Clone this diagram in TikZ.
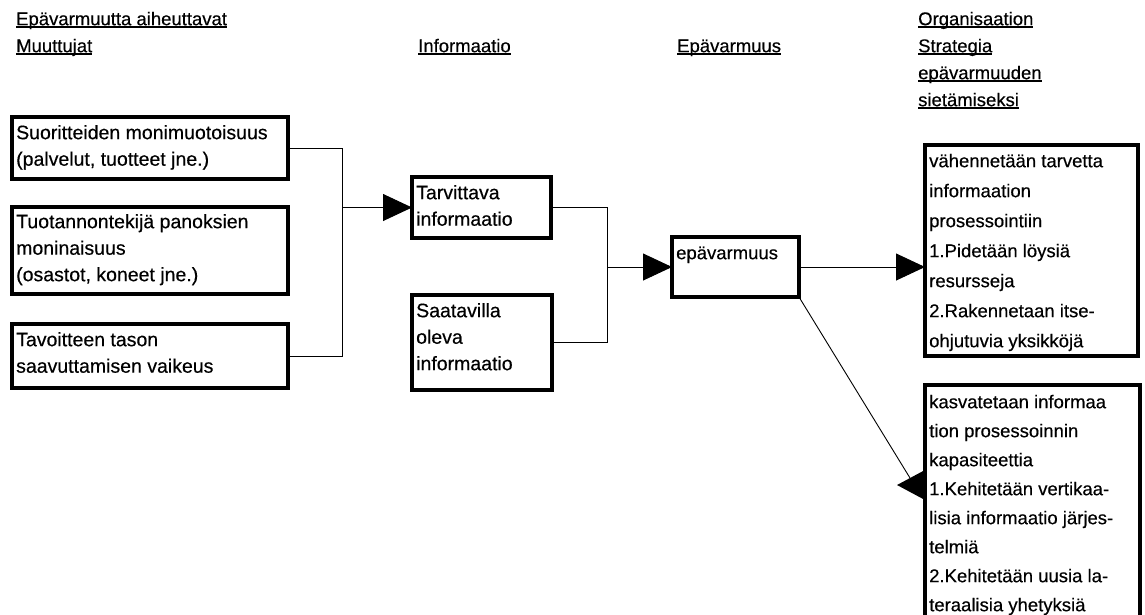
\documentclass[tikz,border=0pt]{standalone}
\usepackage{fontspec}
\setmainfont{Liberation Sans}[FakeBold=0.4]
\usetikzlibrary{arrows.meta,calc}
% underline at a fixed depth below the baseline
\newsavebox\ulinebox
\newcommand\hul[1]{\sbox\ulinebox{#1}\rlap{\rule[-2.6pt]{\wd\ulinebox}{1.6pt}}\usebox\ulinebox}

\begin{document}
\begin{tikzpicture}[x=1pt,y=-1pt,
  frame/.style={draw, line width=3.4pt, inner sep=0pt, outer sep=0pt, anchor=north west},
  lefttxt/.style={anchor=north west, inner sep=0pt, align=left, font=\fontsize{19.5}{26.5}\selectfont},
  righttxt/.style={anchor=north west, inner sep=0pt, align=left, font=\fontsize{18.5}{29}\selectfont},
  headtxt/.style={anchor=north west, inner sep=0pt, align=left, font=\fontsize{18.5}{27}\selectfont},
  conn/.style={line width=0.9pt},
  tip/.style={-{Triangle[length=29pt,width=27pt]}}]

\useasboundingbox (0,0) rectangle (1145,614);
\clip (0,0) rectangle (1145,614);

% column headings
\node[headtxt] (hA) at (16,6.1) {\strut\hul{Epävarmuutta aiheuttavat}\\\hul{Muuttujat}};
\node[headtxt] (hB) at (418,33.1) {\strut\hul{Informaatio}};
\node[headtxt] (hC) at (677,33.1) {\strut\hul{Epävarmuus}};
\node[headtxt] (hD) at (918,6.1) {\strut\hul{Organisaation}\\\hul{Strategia}\\\hul{epävarmuuden}\\\hul{sietämiseksi}};

% source variables
\node[frame, minimum width=276, minimum height=62] (B1) at (12,117) {};
\node[lefttxt] (B1t) at (16,120.45) {\strut Suoritteiden monimuotoisuus\\(palvelut, tuotteet jne.)};
\node[frame, minimum width=276, minimum height=87] (B2) at (12,207) {};
\node[lefttxt] (B2t) at (16,209.45) {\strut Tuotannontekijä panoksien\\moninaisuus\\(osastot, koneet jne.)};
\node[frame, minimum width=276, minimum height=64] (B3) at (12,324) {};
\node[lefttxt] (B3t) at (16,327.45) {\strut Tavoitteen tason\\saavuttamisen vaikeus};

% information
\node[frame, minimum width=139, minimum height=61] (I1) at (412,177) {};
\node[lefttxt] (I1t) at (416,180.45) {\strut Tarvittava\\informaatio};
\node[frame, minimum width=140, minimum height=95] (I2) at (412,295) {};
\node[lefttxt] (I2t) at (416,298.45) {\strut Saatavilla\\oleva\\informaatio};

% uncertainty
\node[frame, minimum width=127, minimum height=60] (E) at (672,237) {};
\node[headtxt] (Et) at (676,240.1) {\strut epävarmuus};

% strategies
\node[frame, minimum width=213, minimum height=211] (R1) at (925,145) {};
\node[righttxt, font=\fontsize{18.5}{30}\selectfont] (R1t) at (929,146) {\strut vähennetään tarvetta\\informaation\\prosessointiin\\1.Pidetään löysiä\\resursseja\\2.Rakennetaan itse-\\ohjutuvia yksikköjä};
\node[frame, minimum width=215, minimum height=245] (R2) at (925,385) {};
\node[righttxt] (R2t) at (929,387.7) {\strut kasvatetaan informaa\\tion prosessoinnin\\kapasiteettia\\1.Kehitetään vertikaa-\\lisia informaatio järjes-\\telmiä\\2.Kehitetään uusia la-\\teraalisia yhetyksiä};

% junction columns
\coordinate (jL) at (342,0);
\coordinate (jR) at (607,0);

% connectors
\draw[conn] (B1.east) -| (jL |- B3.east) -- (B3.east);
\draw[conn,tip] (jL |- I1.west) -- (I1.west);
\draw[conn] (I1.east) -| (jR |- I2.east) -- (I2.east);
\draw[conn,tip] (jR |- E.west) -- (E.west);
\draw[conn,tip] (E.east) -- (E.east -| R1.west);

% slanted connector ending in a left-pointing head at the lower strategy box
\coordinate (hd1) at ($(R2.north west)+(0,85)$);
\coordinate (hd2) at ($(R2.north west)+(0,115)$);
\coordinate (hdtip) at ($(R2.north west)+(-28,100)$);
\coordinate (hdend) at ($(R2.north west)+(-15,93)$);
\draw[conn] (E.south east) -- (hdend);
\fill (hd1) -- (hd2) -- (hdtip) -- cycle;
\end{tikzpicture}
\end{document}
